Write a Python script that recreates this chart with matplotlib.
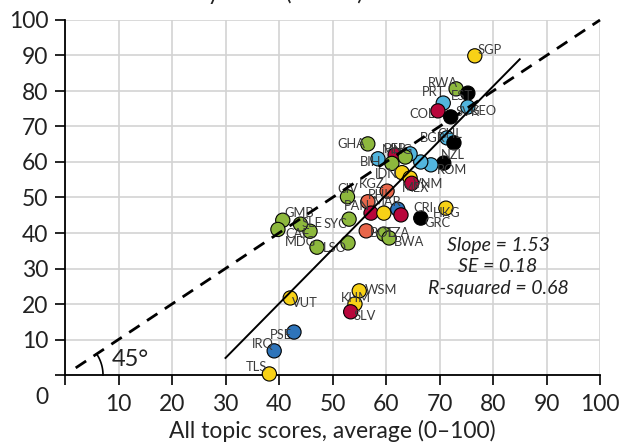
import numpy as np
import matplotlib
matplotlib.use("Agg")
import matplotlib.pyplot as plt

plt.rcParams['font.family'] = ['Lato', 'DejaVu Sans']

# ---------------- data ----------------
codes = ["SGP", "RWA", "EST", "PRT", "COL", "GEO", "SVK", "BGR", "CHL", "NZL",
         "ROM", "LTU", "GHA", "BIH", "PER", "ARM", "MNG", "ALB", "IDN", "VNM",
         "MEX", "KGZ", "CIV", "PAN", "MAR", "PHL", "JAM", "CRI", "GRC", "HKG",
         "BOL", "TZA", "BWA", "SYC", "LSO", "MDG", "LBR", "SLE", "GMB", "CAF",
         "WSM", "KHM", "SLV", "VUT", "PSE", "IRQ", "TLS"]
all_topic_avg = [76.6, 73.1, 75.3, 70.7, 69.7, 75.3, 72.1, 71.4, 72.7, 70.8,
                 68.4, 66.5, 56.6, 58.5, 61.7, 64.5, 63.6, 61.1, 63.0, 64.5,
                 64.8, 60.2, 52.8, 56.6, 57.2, 59.6, 62.2, 62.8, 66.5, 71.2,
                 56.3, 59.6, 60.6, 53.1, 52.9, 47.1, 45.8, 44.0, 40.7, 39.8,
                 55.0, 54.2, 53.4, 42.1, 42.8, 39.1, 38.2]
topic_score = [89.9, 80.6, 79.4, 76.6, 74.4, 75.5, 72.7, 66.8, 65.4, 59.7,
               59.2, 60.0, 65.1, 60.9, 62.0, 62.3, 61.4, 59.6, 57.0, 55.5,
               54.0, 51.8, 50.2, 48.8, 45.6, 45.6, 46.7, 45.1, 44.2, 47.0,
               40.6, 39.7, 38.6, 43.9, 37.2, 36.0, 40.5, 42.5, 43.6, 41.0,
               23.7, 20.0, 17.8, 21.7, 12.1, 6.8, 0.3]
region = ["yel", "grn", "blk", "lbl", "red", "lbl", "blk", "lbl", "blk", "blk",
          "lbl", "lbl", "grn", "lbl", "red", "lbl", "grn", "grn", "yel", "yel",
          "red", "org", "grn", "org", "red", "yel", "dbl", "red", "blk", "yel",
          "org", "grn", "grn", "grn", "grn", "grn", "grn", "grn", "grn", "grn",
          "yel", "yel", "red", "yel", "dbl", "dbl", "yel"]

fit_x = [30, 85]
slope = 1.53
intercept = -41.1
stats_lines = ["Slope = 1.53", "SE = 0.18", "R-squared = 0.68"]
xticks = list(range(0, 101, 10))
yticks = list(range(0, 101, 10))

# ---------------- styles ----------------
palette = {"yel": "#F7D117", "grn": "#8DB83D", "blk": "#000000", "lbl": "#52B5DE",
           "red": "#B8063B", "org": "#E8664A", "dbl": "#2E74BA"}

# label offsets in pixels (dx, dy) and horizontal alignment
label_pos = {
    "SGP": (3, 6, "left"), "RWA": (2, 6, "right"), "EST": (-6, -3, "center"),
    "PRT": (2, 11, "right"), "COL": (-3, -3, "right"), "GEO": (2, -4, "left"),
    "SVK": (5, 5, "left"), "BGR": (-1, 0, "right"), "CHL": (-4, 9, "center"),
    "NZL": (-3, 8, "left"), "ROM": (6, -5, "left"), "LTU": (0, 0, "center"),
    "GHA": (-2, 0, "right"), "BIH": (3, -3, "right"), "PER": (0, 6, "center"),
    "ARM": (0, 0, "center"), "MNG": (-8, 7, "center"), "ALB": (0, 0, "center"),
    "IDN": (-4, -1, "right"), "VNM": (3, -6, "left"), "MEX": (-10, -5, "left"),
    "KGZ": (-3, 7, "right"), "CIV": (0, 8, "center"), "PAN": (2, -4, "right"),
    "MAR": (2, 11, "left"), "PHL": (-4, 18, "center"), "JAM": (0, 0, "center"),
    "CRI": (12, 7, "left"), "GRC": (4, -5, "left"), "HKG": (1, -5, "center"),
    "BOL": (4, -2, "left"), "TZA": (2, 1, "left"), "BWA": (5, -4, "left"),
    "SYC": (-2, -5, "right"), "LSO": (-1, -5, "right"), "MDG": (-1, 5, "right"),
    "LBR": (0, 0, "center"), "SLE": (1, 1, "left"), "GMB": (2, 7, "left"),
    "CAF": (7, -5, "left"), "WSM": (6, 1, "left"), "KHM": (1, 6, "center"),
    "SLV": (3, -4, "left"), "VUT": (2, -5, "left"), "PSE": (-2, -3, "right"),
    "IRQ": (0, 7, "right"), "TLS": (-2, 7, "right"),
}
hidden = {"LTU", "ARM", "ALB", "JAM", "LBR"}

W, H, DPI = 619, 444, 100
fig = plt.figure(figsize=(W / DPI, H / DPI), dpi=DPI)
ax = fig.add_axes([65 / W, (H - 375) / H, (600 - 65) / W, (375 - 20) / H])
ax.set_xlim(0, 100)
ax.set_ylim(0, 100)

ax.set_xticks(xticks)
ax.set_yticks(yticks)
ax.set_xticklabels([""] + [str(t) for t in xticks[1:]])
ax.set_yticklabels([""] + [str(t) for t in yticks[1:]])
ax.tick_params(axis="both", direction="out", length=7, width=1.2, colors="black",
               labelsize=16.5, labelcolor="#222222")
ax.tick_params(axis="x", pad=7)
ax.tick_params(axis="y", pad=5)
ax.grid(True, color="#d3d3d3", linewidth=1.2)
ax.set_axisbelow(True)
for s in ["top", "right"]:
    ax.spines[s].set_visible(False)
for s in ["left", "bottom"]:
    ax.spines[s].set_linewidth(1.3)
    ax.spines[s].set_zorder(2.5)

# origin label
fig.text(42 / W, 1 - 398 / H, "0", fontsize=16.5, color="#222222", ha="center", va="center")

# points
cols = [palette[r] for r in region]
ax.scatter(all_topic_avg, topic_score, s=105, c=cols, edgecolors="black",
           linewidths=0.8, zorder=3, clip_on=False)

# labels
for c, xv, yv in zip(codes, all_topic_avg, topic_score):
    if c in hidden:
        continue
    dx, dy, ha = label_pos[c]
    ax.annotate(c, (xv, yv), xytext=(dx * 72 / DPI, dy * 72 / DPI), textcoords="offset points",
                ha=ha, va="center", fontsize=9.3, color="#3a3a3a", zorder=3.5)

# 45 degree line
ax.plot([2, 100], [2, 100], color="black", linewidth=2, dashes=(4.5, 3.2), zorder=4,
        clip_on=False)
# regression line
fx = np.array(fit_x, dtype=float)
ax.plot(fx, slope * fx + intercept, color="black", linewidth=1.4, zorder=4)

# angle arc
theta = np.linspace(0, np.arctan2(3.55, 5.35), 40)
r_px = 38
ax.plot(r_px * np.cos(theta) / 5.35, r_px * np.sin(theta) / 3.55, color="black",
        linewidth=1.2, zorder=4, clip_on=False)
ax.text(8.8, 4.3, "45°", fontsize=17, color="#222222", ha="left", va="center")

# stats
for i, line in enumerate(stats_lines):
    fig.text(498 / W, 1 - (245 + 21.5 * i) / H, line, fontsize=14, style="italic",
             color="#222222", ha="center", va="center")

ax.set_xlabel("All topic scores, average (0–100)", fontsize=16.5, color="#222222", labelpad=3)
fig.text(363 / W, 1 + 0.5 / H, "Policy score (0–100)", fontsize=16.5, color="#222222",
         ha="right", va="baseline")

fig.savefig("out.png", dpi=DPI)
